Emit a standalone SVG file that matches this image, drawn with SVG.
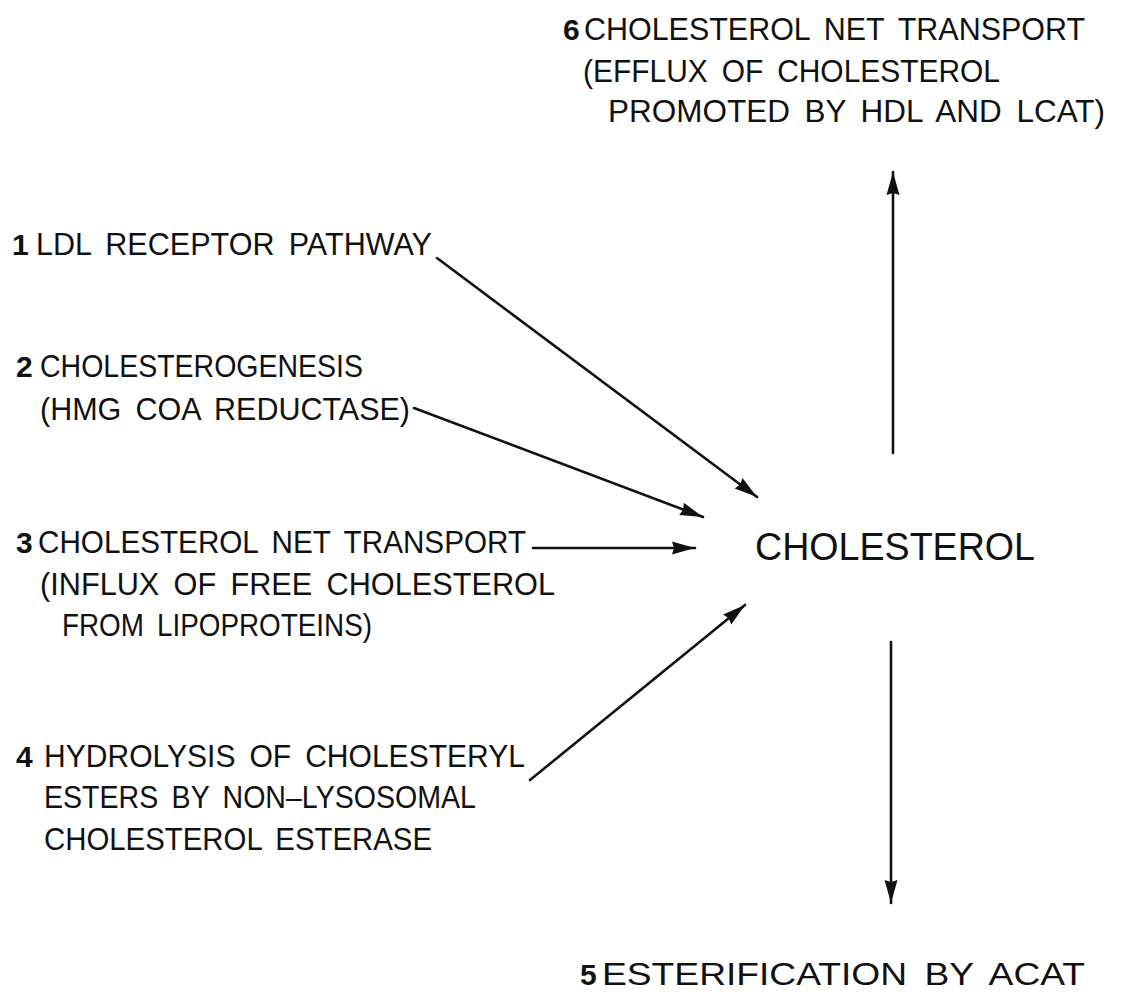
<svg xmlns="http://www.w3.org/2000/svg" width="1125" height="994" viewBox="0 0 1125 994">
<style>
text{font-family:"Liberation Sans",Arial,sans-serif;font-size:32px;fill:#111;word-spacing:6px}
.n{font-weight:bold;font-size:30px}
.big{font-size:39px}
.c{stroke:#111;stroke-width:2.6;fill:none;stroke-linecap:round}
</style>
<defs>
<marker id="ah" markerUnits="userSpaceOnUse" markerWidth="26" markerHeight="16" refX="23" refY="7.5" orient="auto">
<path d="M0,1 L23,7.5 L0,14 L2,7.5 z" fill="#111"/>
</marker>
</defs>
<rect width="1125" height="994" fill="#fff"/>
<g id="n6">
<text class="n" x="563" y="40">6</text>
<text x="584" y="40" textLength="501" lengthAdjust="spacingAndGlyphs">CHOLESTEROL NET TRANSPORT</text>
<text x="583" y="82" textLength="417" lengthAdjust="spacingAndGlyphs">(EFFLUX OF CHOLESTEROL</text>
<text x="608" y="122" textLength="497" lengthAdjust="spacingAndGlyphs">PROMOTED BY HDL AND LCAT)</text>
</g>
<g id="n1">
<text class="n" x="12" y="255">1</text>
<text x="36" y="255" textLength="396" lengthAdjust="spacingAndGlyphs">LDL RECEPTOR PATHWAY</text>
</g>
<g id="n2">
<text class="n" x="16" y="377">2</text>
<text x="40" y="377" textLength="323" lengthAdjust="spacingAndGlyphs">CHOLESTEROGENESIS</text>
<text x="40" y="420" textLength="370" lengthAdjust="spacingAndGlyphs">(HMG COA REDUCTASE)</text>
</g>
<g id="n3">
<text class="n" x="16" y="553">3</text>
<text x="38" y="553" textLength="488" lengthAdjust="spacingAndGlyphs">CHOLESTEROL NET TRANSPORT</text>
<text x="40" y="595" textLength="515" lengthAdjust="spacingAndGlyphs">(INFLUX OF FREE CHOLESTEROL</text>
<text x="62" y="636" textLength="310" lengthAdjust="spacingAndGlyphs">FROM LIPOPROTEINS)</text>
</g>
<g id="n4">
<text class="n" x="16" y="767">4</text>
<text x="44" y="767" textLength="481" lengthAdjust="spacingAndGlyphs">HYDROLYSIS OF CHOLESTERYL</text>
<text x="44" y="808" textLength="432" lengthAdjust="spacingAndGlyphs">ESTERS BY NON–LYSOSOMAL</text>
<text x="44" y="850" textLength="388" lengthAdjust="spacingAndGlyphs">CHOLESTEROL ESTERASE</text>
</g>
<g id="center">
<text class="big" x="755" y="560" textLength="280" lengthAdjust="spacingAndGlyphs">CHOLESTEROL</text>
</g>
<g id="n5">
<text class="n" x="580" y="985">5</text>
<text x="602" y="985" textLength="483" lengthAdjust="spacingAndGlyphs">ESTERIFICATION BY ACAT</text>
</g>
<g id="connectors">
<line class="c" x1="437" y1="258" x2="757" y2="497" marker-end="url(#ah)"/>
<line class="c" x1="414" y1="408" x2="703" y2="517" marker-end="url(#ah)"/>
<line class="c" x1="533" y1="548" x2="695" y2="548" marker-end="url(#ah)"/>
<line class="c" x1="530" y1="780" x2="745" y2="605" marker-end="url(#ah)"/>
<line class="c" x1="893" y1="453" x2="893" y2="172" marker-end="url(#ah)"/>
<line class="c" x1="891" y1="642" x2="891" y2="903" marker-end="url(#ah)"/>
</g>
</svg>
